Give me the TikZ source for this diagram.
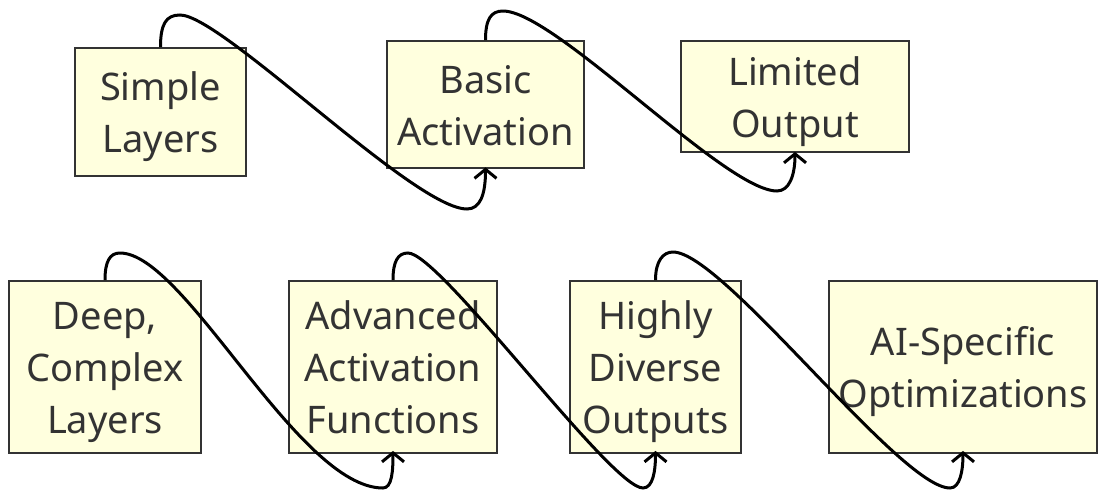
\documentclass[tikz,border=0pt]{standalone}
\usepackage{fontspec}
\setmainfont{Noto Sans}
\usetikzlibrary{arrows.meta}
\definecolor{boxfill}{HTML}{FFFFDE}
\definecolor{boxline}{HTML}{333333}
\definecolor{txt}{HTML}{333333}
\newcommand{\lnstrut}{\rule[-11.4pt]{0pt}{52pt}}
\tikzset{
  box/.style={draw=boxline, line width=1.8pt, fill=boxfill, inner sep=0pt,
    align=center, text=txt, font=\fontsize{38}{52}\selectfont},
  edge/.style={draw=black, line width=3pt,
    -{Straight Barb[length=9pt,width=22pt]}}
}
\begin{document}
\begin{tikzpicture}[x=1pt,y=-1pt]
\useasboundingbox (0,0) rectangle (1099,491);
% top row
\node[box, minimum width=171pt, minimum height=128pt] (simple) at (160.5,112) {\lnstrut Simple\\\lnstrut Layers};
\node[box, minimum width=197pt, minimum height=127pt] (basic) at (485.5,104.5) {\lnstrut Basic\\\lnstrut Activation};
\node[box, minimum width=228pt, minimum height=111pt] (limited) at (795,96.5) {\lnstrut Limited\\\lnstrut Output};
% bottom row
\node[box, minimum width=192pt, minimum height=172pt] (deep) at (105,367) {\lnstrut Deep,\\\lnstrut Complex\\\lnstrut Layers};
\node[box, minimum width=208pt, minimum height=172pt] (advanced) at (393,367) {\lnstrut Advanced\\\lnstrut Activation\\\lnstrut Functions};
\node[box, minimum width=171pt, minimum height=172pt] (highly) at (655.5,367) {\lnstrut Highly\\\lnstrut Diverse\\\lnstrut Outputs};
\node[box, minimum width=268pt, minimum height=172pt] (ai) at (963,367) {\lnstrut AI-Specific\\\lnstrut Optimizations};
% connectors
\draw[edge, shorten >=-1.5pt] (simple.north) .. controls +(0,-23) and +(-14,0) .. (180,15)
  .. controls (222,15) and (414,209) .. (467,209)
  .. controls +(13,0) and +(0,26) .. (basic.south);
\draw[edge, shorten >=-1pt] (basic.north) .. controls +(0,-21) and +(-12,0) .. (503,11)
  .. controls (555,11) and (725,191) .. (777,191)
  .. controls +(12,0) and +(0,23) .. (limited.south);
\draw[edge, shorten >=-3pt] (deep.north) .. controls +(0,-19) and +(-10,0) .. (120,253)
  .. controls (185,253) and (298,488) .. (383,488)
  .. controls +(9,0) and +(0,17) .. (advanced.south);
\draw[edge, shorten >=-3pt] (advanced.north) .. controls +(0,-19) and +(-10,0) .. (408,253)
  .. controls (440,253) and (611,488) .. (643,488)
  .. controls +(10,0) and +(0,17) .. (highly.south);
\draw[edge, shorten >=-3pt] (highly.north) .. controls +(0,-19) and +(-10,0) .. (673,252)
  .. controls (723,252) and (900,488) .. (950,488)
  .. controls +(10,0) and +(0,17) .. (ai.south);
\end{tikzpicture}
\end{document}
